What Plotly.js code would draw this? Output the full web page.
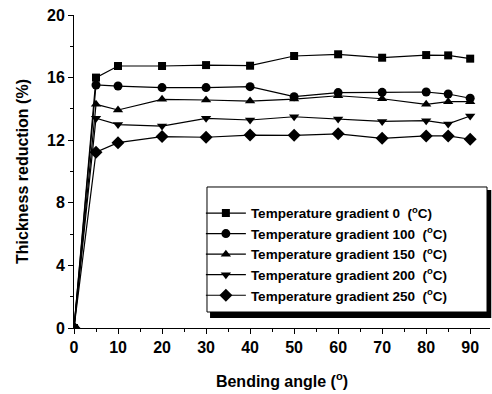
<!DOCTYPE html>
<html>
<head>
<meta charset="utf-8">
<script src="https://cdn.plot.ly/plotly-3.0.1.min.js"></script>
<style>html,body{margin:0;padding:0;background:#fff;}#chart{width:492px;height:394px;}</style>
</head>
<body>
<div id="chart"></div>
<script>
const angles = [0, 5, 10, 20, 30, 40, 50, 60, 70, 80, 85, 90];
const grad0   = [0, 16.0, 16.74, 16.74, 16.8, 16.76, 17.38, 17.49, 17.27, 17.44, 17.42, 17.21];
const grad100 = [0, 15.53, 15.46, 15.36, 15.36, 15.42, 14.78, 15.04, 15.06, 15.08, 14.95, 14.68];
const grad150 = [0, 14.29, 13.93, 14.61, 14.57, 14.5, 14.63, 14.84, 14.65, 14.29, 14.46, 14.46];
const grad200 = [0, 13.4, 13.0, 12.9, 13.4, 13.29, 13.5, 13.35, 13.2, 13.25, 13.04, 13.55];
const grad250 = [0, 11.23, 11.84, 12.23, 12.19, 12.33, 12.31, 12.41, 12.12, 12.27, 12.27, 12.06];
const seriesNames = [
  'Temperature gradient 0\u00a0 (<sup>o</sup>C)',
  'Temperature gradient 100\u00a0 (<sup>o</sup>C)',
  'Temperature gradient 150\u00a0 (<sup>o</sup>C)',
  'Temperature gradient 200\u00a0 (<sup>o</sup>C)',
  'Temperature gradient 250\u00a0 (<sup>o</sup>C)'
];
const seriesValues = [grad0, grad100, grad150, grad200, grad250];
const symbols = ['square', 'circle', 'triangle-up', 'triangle-down', 'diamond'];
const sizes = [8, 9, 9, 9, 10];

const traces = seriesValues.map((v, i) => ({
  x: angles, y: v, name: seriesNames[i], type: 'scatter', mode: 'lines+markers',
  line: {color: '#000', width: 1.2},
  marker: {symbol: symbols[i], size: sizes[i], color: '#000'}
}));

const fontFam = 'Liberation Sans, Arial, sans-serif';
const layout = {
  width: 492, height: 394,
  margin: {l: 74, r: 2, t: 15, b: 66},
  paper_bgcolor: '#fff', plot_bgcolor: '#fff',
  showlegend: true,
  legend: {
    x: 0.305, y: 0.416, xanchor: 'left', yanchor: 'top',
    bgcolor: 'rgba(0,0,0,0)', borderwidth: 0,
    font: {family: fontFam, size: 13.5, color: '#000', weight: 'bold'},
    tracegroupgap: 0, itemwidth: 40
  },
  xaxis: {
    range: [0, 94.5], showgrid: false, zeroline: false,
    showline: true, linecolor: '#000', linewidth: 1,
    ticks: 'outside', ticklen: 5, tickcolor: '#000', dtick: 10, tick0: 0,
    minor: {dtick: 5, ticks: 'outside', ticklen: 3, tickcolor: '#000'},
    tickfont: {family: fontFam, size: 16, color: '#000', weight: 'bold'},
    title: {text: 'Bending angle (<sup>o</sup>)', font: {family: fontFam, size: 16, color: '#000', weight: 'bold'}, standoff: 20}
  },
  yaxis: {
    range: [0, 20], showgrid: false, zeroline: false,
    showline: true, linecolor: '#000', linewidth: 1,
    ticks: 'outside', ticklen: 5, tickcolor: '#000', dtick: 4, tick0: 0,
    minor: {dtick: 2, ticks: 'outside', ticklen: 3, tickcolor: '#000'},
    tickfont: {family: fontFam, size: 16, color: '#000', weight: 'bold'},
    title: {text: 'Thickness reduction (%)', font: {family: fontFam, size: 16, color: '#000', weight: 'bold'}, standoff: 14}
  },
  shapes: [
    {type: 'rect', xref: 'paper', yref: 'paper',
     x0: 0.327, x1: 1.003, y0: 0.032, y1: 0.441,
     fillcolor: '#000', line: {width: 0}, layer: 'above'},
    {type: 'rect', xref: 'paper', yref: 'paper',
     x0: 0.3197, x1: 0.9928, y0: 0.0511, y1: 0.4505,
     fillcolor: '#fff', line: {color: '#000', width: 1}, layer: 'above'}
  ]
};
Plotly.newPlot('chart', traces, layout, {displayModeBar: false, staticPlot: true});
</script>
</body>
</html>
